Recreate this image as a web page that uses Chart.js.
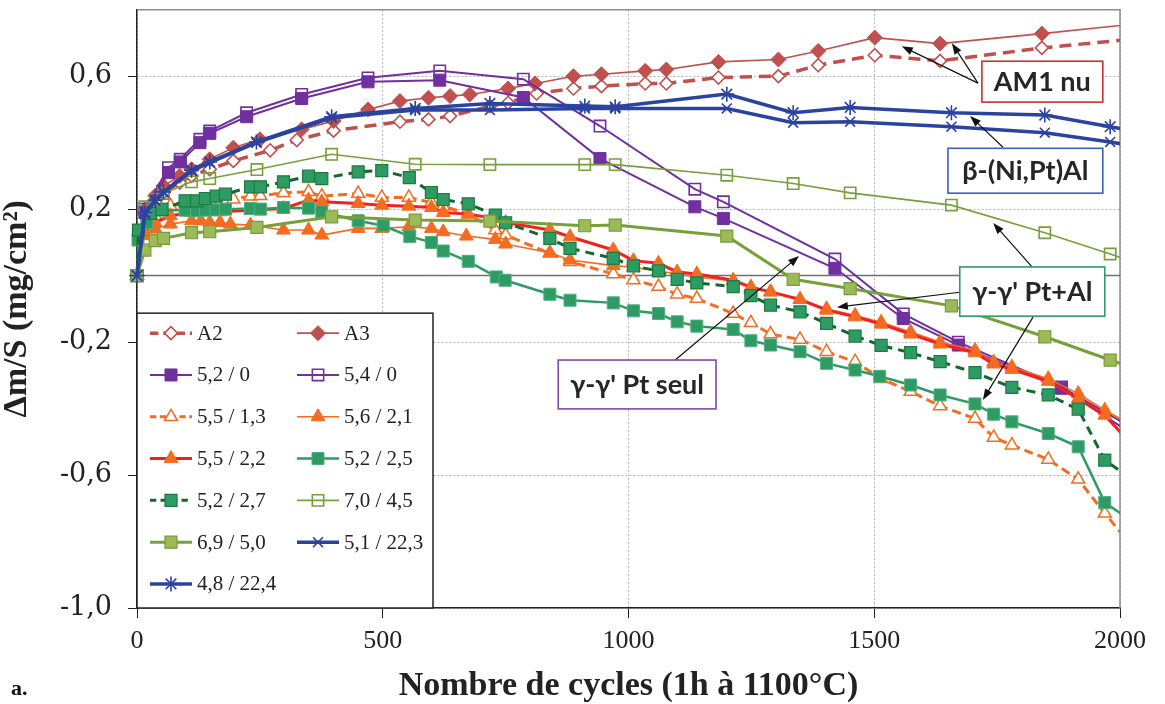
<!DOCTYPE html>
<html><head><meta charset="utf-8">
<script src="https://cdn.jsdelivr.net/npm/chart.js@4.4.1/dist/chart.umd.min.js"></script>
<style>html,body{margin:0;padding:0;background:#fff;}#c{display:block;}</style>
</head><body>
<canvas id="c" width="1165" height="704"></canvas>
<script>
// ---------- DATA ----------
const xTicks = [0, 500, 1000, 1500, 2000];
const yTicks = [-1.0, -0.6, -0.2, 0.2, 0.6];
const seriesLabels = ['A2','A3','5,2 / 0','5,4 / 0','5,5 / 1,3','5,6 / 2,1','5,5 / 2,2','5,2 / 2,5','5,2 / 2,7','7,0 / 4,5','6,9 / 5,0','5,1 / 22,3','4,8 / 22,4'];

const a2Cycles = [0,16,37,54,87,111,148,196,271,325,400,535,593,637,718,755,813,888,945,1034,1077,1183,1305,1386,1501,1634,1841,2050];
const a2Values = [0,0.19,0.22,0.25,0.28,0.30,0.32,0.345,0.377,0.408,0.436,0.463,0.47,0.48,0.51,0.52,0.548,0.563,0.57,0.578,0.578,0.596,0.60,0.633,0.663,0.646,0.685,0.715];

const a3Cycles = [0,16,37,54,87,111,148,196,250,335,400,470,535,593,637,677,755,810,888,945,1034,1077,1183,1305,1386,1501,1634,1841,2050];
const a3Values = [0,0.20,0.24,0.27,0.30,0.32,0.35,0.385,0.41,0.44,0.465,0.50,0.525,0.535,0.54,0.545,0.563,0.578,0.60,0.606,0.616,0.62,0.643,0.65,0.676,0.716,0.698,0.728,0.76];

const p52Cycles = [0,16,64,88,128,148,223,335,470,616,786,942,1135,1193,1420,1559,1671,1881,2050];
const p52Values = [0,0.19,0.31,0.342,0.40,0.428,0.478,0.533,0.583,0.588,0.536,0.352,0.207,0.172,0.022,-0.129,-0.209,-0.339,-0.50];

const p54Cycles = [0,16,64,88,128,148,223,335,470,616,786,942,1135,1193,1420,1559,1671,1881,2050];
const p54Values = [0,0.20,0.325,0.35,0.41,0.435,0.49,0.545,0.595,0.616,0.591,0.45,0.26,0.222,0.05,-0.115,-0.20,-0.335,-0.48];

const o13Cycles = [0,14,37,68,111,148,196,231,251,298,349,376,450,498,553,599,623,674,729,750,840,881,969,1010,1061,1099,1139,1213,1249,1289,1349,1403,1461,1514,1574,1634,1705,1743,1780,1854,1915,1969,2050];
const o13Values = [0,0.14,0.18,0.21,0.22,0.225,0.23,0.239,0.24,0.249,0.252,0.239,0.247,0.235,0.235,0.22,0.209,0.185,0.137,0.122,0.067,0.042,0.005,-0.013,-0.033,-0.056,-0.069,-0.114,-0.142,-0.176,-0.192,-0.229,-0.259,-0.31,-0.349,-0.392,-0.43,-0.487,-0.51,-0.553,-0.613,-0.715,-0.86];

const o21Cycles = [0,14,37,68,111,130,148,169,190,231,298,349,376,450,498,553,599,623,670,729,750,840,881,969,1010,1061,1139,1213,1249,1289,1349,1403,1461,1514,1574,1634,1705,1743,1780,1854,1915,1969,2050];
const o21Values = [0,0.12,0.14,0.155,0.165,0.165,0.16,0.16,0.155,0.152,0.137,0.137,0.122,0.142,0.142,0.147,0.142,0.132,0.119,0.109,0.095,0.069,0.047,0.03,0.025,0.014,-0.004,-0.016,-0.035,-0.049,-0.072,-0.10,-0.12,-0.14,-0.17,-0.20,-0.225,-0.26,-0.275,-0.31,-0.355,-0.405,-0.47];

const r22Cycles = [0,14,37,68,111,169,231,298,349,376,450,498,553,599,623,674,729,750,840,881,969,1010,1061,1099,1139,1213,1249,1289,1349,1403,1461,1514,1574,1634,1705,1743,1780,1854,1915,1969,2050];
const r22Values = [0,0.13,0.16,0.18,0.19,0.192,0.197,0.202,0.227,0.222,0.217,0.212,0.209,0.205,0.19,0.185,0.172,0.16,0.137,0.117,0.077,0.045,0.037,0.011,0.005,-0.014,-0.035,-0.049,-0.072,-0.104,-0.124,-0.146,-0.176,-0.206,-0.232,-0.266,-0.282,-0.318,-0.37,-0.42,-0.55];

const g25Cycles = [0,2,20,47,98,121,139,161,180,231,251,298,349,376,450,501,555,599,623,674,731,749,840,881,969,1010,1061,1099,1139,1213,1249,1289,1349,1403,1461,1511,1574,1634,1705,1743,1780,1854,1915,1969,2050];
const g25Values = [0,0.107,0.16,0.197,0.197,0.195,0.197,0.198,0.20,0.202,0.20,0.205,0.203,0.192,0.165,0.15,0.118,0.10,0.074,0.043,-0.004,-0.014,-0.056,-0.074,-0.082,-0.106,-0.114,-0.139,-0.152,-0.162,-0.196,-0.209,-0.229,-0.264,-0.284,-0.303,-0.329,-0.359,-0.386,-0.417,-0.44,-0.475,-0.515,-0.683,-0.765];

const g27Cycles = [0,3,27,51,98,121,139,161,180,231,251,298,349,376,450,498,554,599,623,674,729,750,840,881,969,1010,1061,1099,1139,1213,1249,1289,1349,1403,1461,1514,1574,1634,1705,1780,1854,1915,1969,2050];
const g27Values = [0,0.137,0.187,0.199,0.225,0.225,0.232,0.239,0.245,0.267,0.267,0.282,0.299,0.292,0.312,0.316,0.295,0.25,0.229,0.216,0.182,0.159,0.112,0.082,0.052,0.029,0.014,-0.011,-0.022,-0.033,-0.06,-0.089,-0.109,-0.144,-0.182,-0.21,-0.232,-0.259,-0.292,-0.336,-0.359,-0.402,-0.555,-0.64];

const v45Cycles = [0,16,37,54,111,148,244,396,566,718,911,973,1200,1335,1451,1657,1847,1980,2050];
const v45Values = [0,0.207,0.23,0.247,0.282,0.292,0.319,0.365,0.335,0.334,0.334,0.334,0.302,0.277,0.249,0.212,0.129,0.065,0.03];

const v50Cycles = [0,16,37,54,111,148,244,396,566,718,911,973,1200,1335,1451,1657,1847,1980,2050];
const v50Values = [0,0.077,0.105,0.112,0.129,0.132,0.145,0.177,0.167,0.164,0.15,0.152,0.119,-0.011,-0.039,-0.091,-0.184,-0.254,-0.29];

const b223Cycles = [0,16,37,54,111,148,243,396,566,718,911,973,1200,1335,1451,1657,1847,1980,2050];
const b223Values = [0,0.185,0.225,0.25,0.315,0.34,0.40,0.475,0.498,0.498,0.503,0.503,0.503,0.46,0.463,0.448,0.43,0.402,0.385];

const b224Cycles = [0,16,37,54,111,148,243,396,566,718,911,973,1200,1335,1451,1657,1847,1980,2050];
const b224Values = [0,0.19,0.227,0.252,0.317,0.342,0.402,0.478,0.503,0.518,0.51,0.508,0.546,0.49,0.506,0.49,0.483,0.448,0.43];

const seriesCycles = [a2Cycles,a3Cycles,p52Cycles,p54Cycles,o13Cycles,o21Cycles,r22Cycles,g25Cycles,g27Cycles,v45Cycles,v50Cycles,b223Cycles,b224Cycles];
const seriesValues = [a2Values,a3Values,p52Values,p54Values,o13Values,o21Values,r22Values,g25Values,g27Values,v45Values,v50Values,b223Values,b224Values];

// ---------- STYLES ----------
const RED='#C0504D', PURPLE='#7030A0', ORANGE='#F36C21', BRED='#F4201F', TEAL='#2E9B64',
      DKGREEN='#13672F', OLIVE='#77A03A', LTGREEN='#9BBB59', BLUE='#2B43A0', NONE='rgba(0,0,0,0)';
const seriesStyles = [
  {c:RED, w:3.5, d:[12,7], ps:'rectRot', r:6.5, bg:'#fff', pb:RED, pbw:1.6},
  {c:RED, w:1.6, d:[], ps:'rectRot', r:7.5, bg:RED, pb:RED, pbw:1},
  {c:PURPLE, w:2, d:[], ps:'rect', r:8.5, bg:PURPLE, pb:PURPLE, pbw:1},
  {c:PURPLE, w:2, d:[], ps:'rect', r:8, bg:NONE, pb:PURPLE, pbw:1.6},
  {c:ORANGE, w:3, d:[9,5], ps:'triangle', r:7.5, bg:'#fff', pb:ORANGE, pbw:1.5},
  {c:ORANGE, w:1.6, d:[], ps:'triangle', r:8, bg:ORANGE, pb:ORANGE, pbw:1},
  {c:BRED, w:3, d:[], ps:'triangle', r:8, bg:ORANGE, pb:ORANGE, pbw:1},
  {c:TEAL, w:2.5, d:[], ps:'rect', r:8.5, bg:TEAL, pb:'#4FB07E', pbw:1},
  {c:DKGREEN, w:3, d:[9,6], ps:'rect', r:8.5, bg:TEAL, pb:'#1E7B40', pbw:1.2},
  {c:OLIVE, w:1.6, d:[], ps:'rect', r:8, bg:NONE, pb:OLIVE, pbw:1.6},
  {c:OLIVE, w:3, d:[], ps:'rect', r:8.5, bg:LTGREEN, pb:'#7A9A3A', pbw:1.2},
  {c:BLUE, w:3.5, d:[], ps:'crossRot', r:7, bg:BLUE, pb:BLUE, pbw:1.6},
  {c:BLUE, w:3.5, d:[], ps:'star', r:7.5, bg:BLUE, pb:BLUE, pbw:1.6}
];

const N = seriesLabels.length;
const datasets = seriesLabels.map((lab, i) => {
  const s = seriesStyles[i];
  return {
    label: lab,
    data: seriesCycles[i].map((x, k) => ({x: x, y: seriesValues[i][k]})),
    borderColor: s.c, borderWidth: s.w, borderDash: s.d,
    pointStyle: s.ps, pointRadius: s.r, pointBackgroundColor: s.bg,
    pointBorderColor: s.pb, pointBorderWidth: s.pbw,
    tension: 0, fill: false, order: N - i,
    clip: {left: 10, top: 4, right: 0, bottom: 4}
  };
});

// ---------- ANNOTATIONS (data coordinates) ----------
const notes = [
  {text:'AM1 nu', color:'#C9302C', box:[1719,0.645,1965,0.522], arrows:[[1711,0.579,1556,0.690],[1711,0.579,1658,0.699]]},
  {text:'β-(Ni,Pt)Al', color:'#3F5FB0', box:[1650,0.383,1965,0.248], arrows:[[1762,0.386,1695,0.480]]},
  {text:"γ-γ' Pt+Al", color:'#2E9B64', box:[1674,0.026,1969,-0.122], arrows:[[1674,-0.050,1424,-0.095],[1821,0.026,1742,0.158],[1823,-0.125,1721,-0.374]]},
  {text:"γ-γ' Pt seul", color:'#7B4BAA', box:[857,-0.254,1178,-0.401], arrows:[[1095,-0.254,1347,0.059]]}
];

function drawMarker(ctx, s, x, y) {
  ctx.save();
  ctx.setLineDash([]);
  ctx.fillStyle = s.bg; ctx.strokeStyle = s.pb; ctx.lineWidth = s.pbw;
  if (Chart.helpers && Chart.helpers.drawPoint) {
    Chart.helpers.drawPoint(ctx, {pointStyle: s.ps, radius: s.r, rotation: 0, borderWidth: s.pbw}, x, y);
  }
  ctx.restore();
}

const framePlugin = {
  id: 'frame',
  beforeDatasetsDraw(chart) {
    const {ctx, chartArea: a, scales: {y}} = chart;
    ctx.save();
    ctx.strokeStyle = '#8c8c8c'; ctx.lineWidth = 1.5; ctx.setLineDash([]);
    ctx.beginPath();
    ctx.moveTo(a.left, a.top); ctx.lineTo(a.right, a.top); ctx.lineTo(a.right, a.bottom);
    ctx.stroke();
    const y0 = y.getPixelForValue(0);
    ctx.strokeStyle = '#6f6f6f'; ctx.lineWidth = 1.5;
    ctx.beginPath(); ctx.moveTo(a.left, y0); ctx.lineTo(a.right, y0); ctx.stroke();
    ctx.restore();
  },
  afterDraw(chart) {
    const {ctx, chartArea: a, scales: {x, y}} = chart;
    // legend box
    ctx.save();
    const L = a.left, T = y.getPixelForValue(-0.113), W = 296, B = a.bottom;
    ctx.fillStyle = '#fff'; ctx.fillRect(L, T, W, B - T);
    ctx.strokeStyle = '#222'; ctx.lineWidth = 1.5; ctx.setLineDash([]);
    ctx.strokeRect(L, T, W, B - T);
    ctx.font = '21px "Liberation Serif", serif';
    ctx.textBaseline = 'middle'; ctx.textAlign = 'left';
    for (let i = 0; i < N; i++) {
      const s = seriesStyles[i];
      const col = i % 2, row = Math.floor(i / 2);
      const cy = T + 20 + row * 41.8;
      const x0 = L + 13 + col * 147, x1 = x0 + 42;
      ctx.save();
      ctx.strokeStyle = s.c; ctx.lineWidth = s.w; ctx.setLineDash(s.d.map(v => v * 0.7));
      ctx.beginPath(); ctx.moveTo(x0, cy); ctx.lineTo(x1, cy); ctx.stroke();
      ctx.restore();
      drawMarker(ctx, s, (x0 + x1) / 2, cy);
      ctx.fillStyle = '#222';
      ctx.fillText(seriesLabels[i], x1 + 5, cy + 1);
    }
    ctx.restore();
    // annotations
    ctx.save();
    ctx.setLineDash([]);
    notes.forEach(n => {
      const bx0 = x.getPixelForValue(n.box[0]), by0 = y.getPixelForValue(n.box[1]);
      const bx1 = x.getPixelForValue(n.box[2]), by1 = y.getPixelForValue(n.box[3]);
      n.arrows.forEach(ar => {
        const tx = x.getPixelForValue(ar[0]), ty = y.getPixelForValue(ar[1]);
        const hx = x.getPixelForValue(ar[2]), hy = y.getPixelForValue(ar[3]);
        const ang = Math.atan2(hy - ty, hx - tx);
        const hl = 11, hw = 4;
        ctx.strokeStyle = '#111'; ctx.lineWidth = 1.2;
        ctx.beginPath(); ctx.moveTo(tx, ty);
        ctx.lineTo(hx - Math.cos(ang) * hl * 0.8, hy - Math.sin(ang) * hl * 0.8); ctx.stroke();
        ctx.fillStyle = '#111';
        ctx.beginPath(); ctx.moveTo(hx, hy);
        ctx.lineTo(hx - Math.cos(ang) * hl - Math.sin(ang) * hw, hy - Math.sin(ang) * hl + Math.cos(ang) * hw);
        ctx.lineTo(hx - Math.cos(ang) * hl + Math.sin(ang) * hw, hy - Math.sin(ang) * hl - Math.cos(ang) * hw);
        ctx.closePath(); ctx.fill();
      });
      ctx.fillStyle = '#fff';
      ctx.fillRect(bx0, by0, bx1 - bx0, by1 - by0);
      ctx.strokeStyle = n.color; ctx.lineWidth = 1.6;
      ctx.strokeRect(bx0, by0, bx1 - bx0, by1 - by0);
      ctx.fillStyle = '#262626';
      ctx.font = 'bold 27px Lato, "Open Sans", sans-serif';
      ctx.textAlign = 'center'; ctx.textBaseline = 'middle';
      ctx.fillText(n.text, (bx0 + bx1) / 2, (by0 + by1) / 2 + 1);
    });
    // panel label
    ctx.fillStyle = '#111';
    ctx.font = 'bold 22px "Liberation Serif", serif';
    ctx.textAlign = 'left'; ctx.textBaseline = 'alphabetic';
    ctx.fillText('a.', 11, 695);
    ctx.restore();
  }
};

new Chart(document.getElementById('c').getContext('2d'), {
  type: 'line',
  data: { datasets },
  options: {
    responsive: false, animation: false, devicePixelRatio: 1,
    layout: { padding: { top: 9, right: 45, left: 0, bottom: 0 } },
    plugins: { legend: { display: false }, tooltip: { enabled: false } },
    scales: {
      x: {
        type: 'linear', min: 0, max: 2000,
        afterBuildTicks: s => { s.ticks = xTicks.map(v => ({value: v})); },
        afterFit: s => { s.height = 96; s.paddingLeft = 0; s.paddingRight = 0; },
        grid: { color: '#b5b5b5', lineWidth: 1, tickLength: 10, tickColor: '#222', tickWidth: 1 },
        border: { display: true, color: '#222', width: 1.5, dash: [2, 2] },
        ticks: { color: '#222', padding: 8, maxRotation: 0, font: { family: '"Liberation Serif", serif', size: 26 },
                 callback: v => String(v) },
        title: { display: true, text: 'Nombre de cycles (1h à 1100°C)', color: '#222',
                 font: { family: '"Liberation Serif", serif', size: 34, weight: 'bold', lineHeight: 1 },
                 padding: { top: 0, bottom: 1 } }
      },
      y: {
        type: 'linear', min: -1.0, max: 0.8,
        afterBuildTicks: s => { s.ticks = yTicks.map(v => ({value: v})); },
        afterFit: s => { s.width = 137; s.paddingTop = 0; s.paddingBottom = 0; },
        grid: { color: '#b5b5b5', lineWidth: 1, tickLength: 9, tickColor: '#222', tickWidth: 1 },
        border: { display: true, color: '#222', width: 1.5, dash: [2, 2] },
        ticks: { color: '#222', padding: 16, font: { family: '"DejaVu Serif", serif', size: 27 },
                 callback: v => v.toFixed(1).replace('.', ',') },
        title: { display: true, text: 'Δm/S (mg/cm²)', color: '#222',
                 font: { family: '"Liberation Serif", serif', size: 34, weight: 'bold', lineHeight: 1 },
                 padding: { top: 0, bottom: 12 } }
      }
    }
  },
  plugins: [framePlugin]
});
</script>
</body></html>
